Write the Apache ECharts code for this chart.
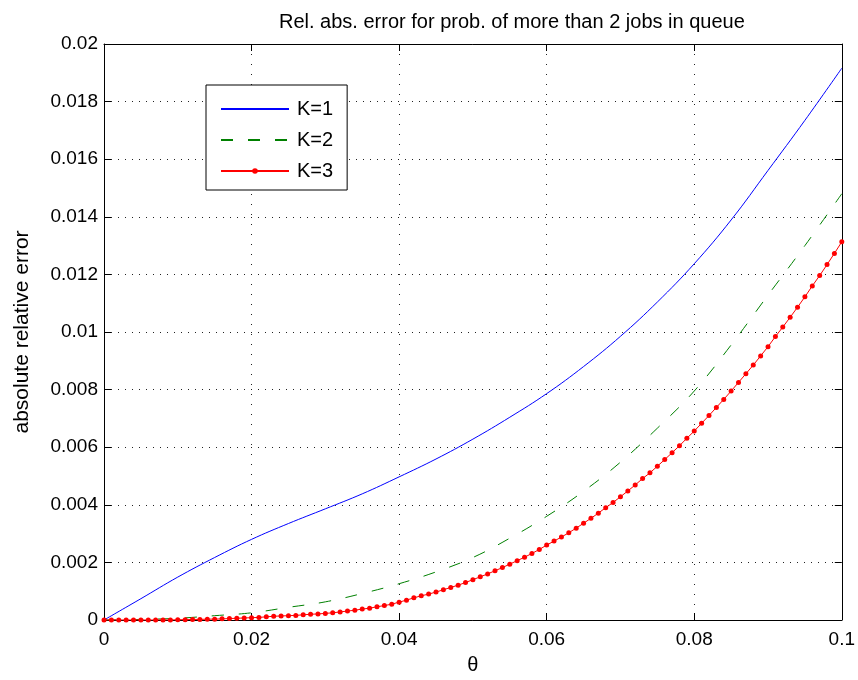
<!DOCTYPE html>
<html><head><meta charset="utf-8">
<script src="https://cdn.jsdelivr.net/npm/echarts@6/dist/echarts.min.js"></script>
<style>html,body{margin:0;padding:0;background:#fff}#c{width:858px;height:680px}</style>
</head><body><div id="c"></div>
<script>
const titleText = 'Rel. abs. error for prob. of more than 2 jobs in queue';
const xName = 'θ';
const yName = 'absolute relative error';
const seriesNames = ['K=1', 'K=2', 'K=3'];
const xTickLabels = ['0', '0.02', '0.04', '0.06', '0.08', '0.1'];
const yTickLabels = ['0', '0.002', '0.004', '0.006', '0.008', '0.01', '0.012', '0.014', '0.016', '0.018', '0.02'];

const thetaCoarse = [0, 0.005, 0.01, 0.015, 0.02, 0.025, 0.03, 0.035, 0.04, 0.045, 0.05,
  0.055, 0.06, 0.065, 0.07, 0.075, 0.08, 0.085, 0.09, 0.095, 0.1];
const k1 = [0, 0.00074, 0.00149, 0.00217, 0.00280, 0.00335, 0.00386, 0.00438, 0.00497, 0.00559, 0.00628,
  0.00704, 0.00786, 0.00880, 0.00985, 0.01104, 0.01237, 0.01389, 0.01561, 0.01735, 0.01916];
const k2 = [0, 0.00002, 0.00006, 0.00015, 0.00025, 0.00044, 0.00063, 0.00092, 0.00126, 0.00167, 0.00217,
  0.00284, 0.00360, 0.00447, 0.00548, 0.00666, 0.00795, 0.00955, 0.01128, 0.01300, 0.01480];

const thetaFine = [0, 0.001, 0.002, 0.003, 0.004, 0.005, 0.006, 0.007, 0.008, 0.009,
  0.01, 0.011, 0.012, 0.013, 0.014, 0.015, 0.016, 0.017, 0.018, 0.019,
  0.02, 0.021, 0.022, 0.023, 0.024, 0.025, 0.026, 0.027, 0.028, 0.029,
  0.03, 0.031, 0.032, 0.033, 0.034, 0.035, 0.036, 0.037, 0.038, 0.039,
  0.04, 0.041, 0.042, 0.043, 0.044, 0.045, 0.046, 0.047, 0.048, 0.049,
  0.05, 0.051, 0.052, 0.053, 0.054, 0.055, 0.056, 0.057, 0.058, 0.059,
  0.06, 0.061, 0.062, 0.063, 0.064, 0.065, 0.066, 0.067, 0.068, 0.069,
  0.07, 0.071, 0.072, 0.073, 0.074, 0.075, 0.076, 0.077, 0.078, 0.079,
  0.08, 0.081, 0.082, 0.083, 0.084, 0.085, 0.086, 0.087, 0.088, 0.089,
  0.09, 0.091, 0.092, 0.093, 0.094, 0.095, 0.096, 0.097, 0.098, 0.099, 0.1];
const k3 = [0, 0, 0, 0, 0, 0, 0, 0, 0, 0,
  0.00001, 0.00001, 0.00002, 0.00002, 0.00003, 0.00003, 0.00004, 0.00005, 0.00006, 0.00007,
  0.00008, 0.00009, 0.00011, 0.00013, 0.00014, 0.00015, 0.00016, 0.00018, 0.00020, 0.00021,
  0.00023, 0.00025, 0.00028, 0.00031, 0.00034, 0.00038, 0.00041, 0.00046, 0.00050, 0.00055,
  0.00062, 0.00069, 0.00077, 0.00084, 0.00090, 0.00097, 0.00105, 0.00113, 0.00121, 0.00130,
  0.00140, 0.00150, 0.00160, 0.00171, 0.00182, 0.00194, 0.00206, 0.00218, 0.00231, 0.00245,
  0.00260, 0.00274, 0.00288, 0.00303, 0.00319, 0.00336, 0.00353, 0.00371, 0.00390, 0.00408,
  0.00428, 0.00448, 0.00469, 0.00491, 0.00511, 0.00534, 0.00557, 0.00581, 0.00605, 0.00631,
  0.00656, 0.00683, 0.00710, 0.00738, 0.00766, 0.00795, 0.00825, 0.00855, 0.00885, 0.00917,
  0.00949, 0.00984, 0.01017, 0.01051, 0.01086, 0.01122, 0.01160, 0.01196, 0.01234, 0.01273, 0.01313];

const FONT = 'Liberation Sans, Arial, Helvetica, sans-serif';
const zip = (xs, ys) => xs.map((x, i) => [x, ys[i]]);
const xLab = v => { const i = Math.round(v / 0.02); return xTickLabels[i] ?? ''; };
const yLab = v => { const i = Math.round(v / 0.002); return yTickLabels[i] ?? ''; };

const chart = echarts.init(document.getElementById('c'), null, { renderer: 'canvas' });
const axisLine = { show: true, onZero: false, lineStyle: { color: '#000', width: 1 } };
const tick = { show: true, inside: true, length: 7, lineStyle: { color: '#000', width: 1 } };

chart.setOption({
  animation: false,
  backgroundColor: '#fff',
  title: {
    text: titleText, left: 274, top: 7,
    textStyle: { fontFamily: FONT, fontSize: 20, fontWeight: 'normal', color: '#000' }
  },
  grid: { left: 104, top: 44, width: 741, height: 583, containLabel: false },
  legend: {
    orient: 'vertical', left: 206, top: 85,
    padding: [14, 14, 9, 14],
    borderColor: '#000', borderWidth: 1, backgroundColor: '#fff',
    itemWidth: 68, itemHeight: 7, itemGap: 11,
    textStyle: { fontFamily: FONT, fontSize: 20, color: '#000', lineHeight: 20, padding: [0, 0, 0, 3] },
    data: [
      { name: seriesNames[0], itemStyle: { opacity: 0 } },
      { name: seriesNames[1], itemStyle: { opacity: 0 } },
      { name: seriesNames[2] }
    ]
  },
  xAxis: [
    {
      type: 'value', position: 'bottom', min: 0, max: 0.1, interval: 0.02,
      axisLine, axisTick: tick,
      axisLabel: { fontFamily: FONT, fontSize: 19, color: '#000', margin: 10, formatter: xLab },
      splitLine: { show: true, lineStyle: { color: '#222', width: 1, type: [1, 9] } },
      name: xName, nameLocation: 'middle', nameGap: 35,
      nameTextStyle: { fontFamily: FONT, fontSize: 20, color: '#000' }
    },
    {
      type: 'value', position: 'top', min: 0, max: 0.1, interval: 0.02,
      axisLine, axisTick: tick, axisLabel: { show: false }, splitLine: { show: false }
    }
  ],
  yAxis: [
    {
      type: 'value', position: 'left', min: 0, max: 0.02, interval: 0.002,
      axisLine, axisTick: tick,
      axisLabel: { fontFamily: FONT, fontSize: 19, color: '#000', margin: 6, formatter: yLab },
      splitLine: { show: true, lineStyle: { color: '#222', width: 1, type: [1, 6] } },
      name: yName, nameLocation: 'middle', nameGap: 71,
      nameTextStyle: { fontFamily: FONT, fontSize: 21, color: '#000' }
    },
    {
      type: 'value', position: 'right', min: 0, max: 0.02, interval: 0.002,
      axisLine, axisTick: tick, axisLabel: { show: false }, splitLine: { show: false }
    }
  ],
  series: [
    {
      name: seriesNames[0], type: 'line', data: zip(thetaCoarse, k1),
      smooth: 0.4, symbol: 'none', showSymbol: false,
      lineStyle: { color: '#0000ff', width: 1 }, itemStyle: { color: '#0000ff' }
    },
    {
      name: seriesNames[1], type: 'line', data: zip(thetaCoarse, k2),
      smooth: 0.4, symbol: 'none', showSymbol: false,
      lineStyle: { color: '#008000', width: 1, type: [12, 15] }, itemStyle: { color: '#008000' }
    },
    {
      name: seriesNames[2], type: 'line', data: zip(thetaFine, k3),
      symbol: 'circle', symbolSize: 5, showSymbol: true, showAllSymbol: true,
      lineStyle: { color: '#ff0000', width: 1 }, itemStyle: { color: '#ff0000' }
    }
  ]
});
</script>
</body></html>
